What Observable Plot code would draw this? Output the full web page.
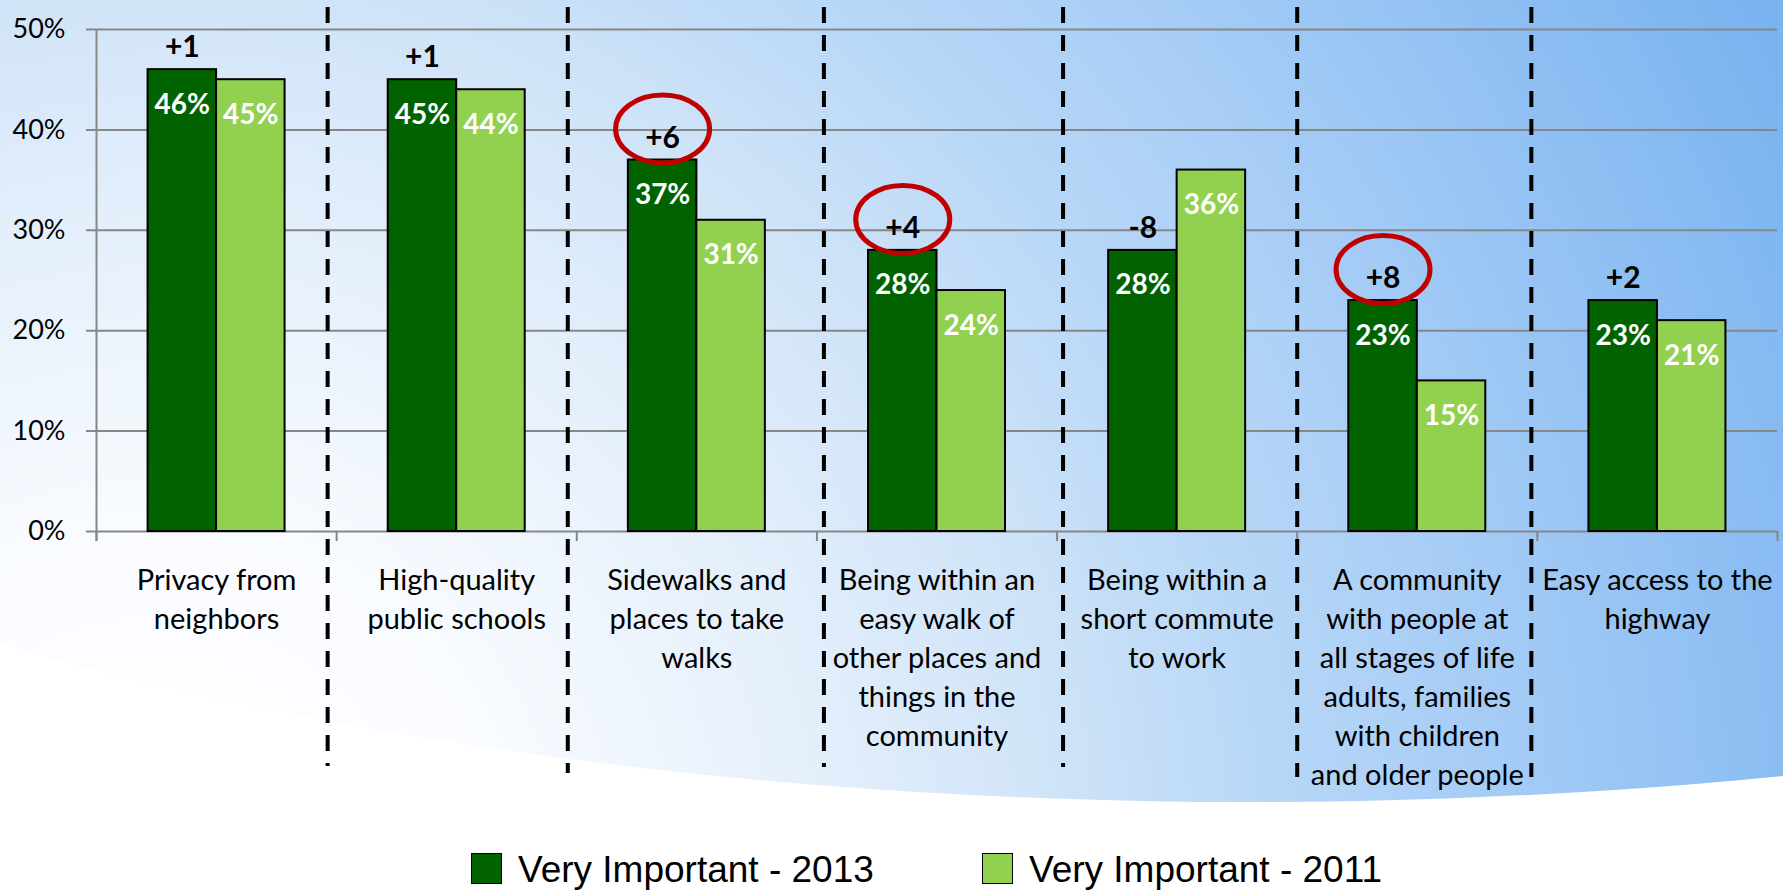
<!DOCTYPE html>
<html>
<head>
<meta charset="utf-8">
<script src="https://cdn.jsdelivr.net/npm/d3@7"></script>
<script src="https://cdn.jsdelivr.net/npm/@observablehq/plot@0.6"></script>
<style>
  html, body { margin: 0; padding: 0; }
  body { width: 1783px; height: 890px; overflow: hidden; position: relative; background: #ffffff; font-family: Lato, sans-serif; }
  #bg { position: absolute; left: 0; top: 0; width: 1783px; height: 890px;
        background: radial-gradient(circle at 160px 880px, #ffffff 0px, #fafcff 330px, #e4effb 660px, #d0e4f8 890px, #bad8f7 1090px, #a7cdf6 1320px, #79b3f0 1820px);
        clip-path: ellipse(2000px 720px at 1250px 82px); }
  #chart { position: relative; width: 1783px; height: 850px; }
  #chart svg { display: block; }
  #legend { position: relative; width: 1783px; height: 40px; font-family: "Liberation Sans", Arial, sans-serif; }
  #legend .sw { position: absolute; top: 3px; width: 31px; height: 31px; box-sizing: border-box; border: 1.5px solid #000; }
  #legend .lt { position: absolute; top: 1px; font-size: 37px; line-height: 37px; color: #000; white-space: nowrap; }
</style>
</head>
<body>
<div id="bg"></div>
<div id="chart"></div>
<div id="legend"></div>
<script>
// ---------- data ----------
const categories = [
  "Privacy from neighbors",
  "High-quality public schools",
  "Sidewalks and places to take walks",
  "Being within an easy walk of other places and things in the community",
  "Being within a short commute to work",
  "A community with people at all stages of life adults, families with children and older people",
  "Easy access to the highway"
];
const tickLabels = [
  "Privacy from\nneighbors",
  "High-quality\npublic schools",
  "Sidewalks and\nplaces to take\nwalks",
  "Being within an\neasy walk of\nother places and\nthings in the\ncommunity",
  "Being within a\nshort commute\nto work",
  "A community\nwith people at\nall stages of life\nadults, families\nwith children\nand older people",
  "Easy access to the\nhighway"
];
const seriesNames = ["Very Important - 2013", "Very Important - 2011"];
const values2013 = [46, 45, 37, 28, 28, 23, 23];
const values2011 = [45, 44, 31, 24, 36, 15, 21];
const circledCategories = [categories[2], categories[3], categories[5]];
const yTicks = [0, 10, 20, 30, 40, 50];
// dashed separators between groups (after category index), extent in % units
const separatorAfter = [0, 1, 2, 3, 4, 5];
const separatorTop = 52.2;
const separatorBottoms = [-23.4, -24.1, -23.5, -23.5, -24.5, -24.5];

// ---------- styles / layout ----------
const DARK = "#006300", LIGHT = "#92D050", GRID = "#878787", RED = "#C00000";
const W = 1783, H = 850, mL = 96, mR = 6, mT = 29, mB = 319;
const bw = (W - mL - mR) / categories.length;
const barW = 68.5;
const sepNudge = [-9, -9, 7, 6, 0, -6];

const rows = categories.map((c, i) => ({
  category: c,
  v2013: values2013[i],
  v2011: values2011[i],
  diff: values2013[i] - values2011[i],
  label: tickLabels[i]
}));
const circledRows = rows.filter(r => circledCategories.includes(r.category));

const ellipseSymbol = {
  draw(ctx) {
    const rx = 47, ry = 34, k = 0.5523;
    ctx.moveTo(rx, 0);
    ctx.bezierCurveTo(rx, ry * k, rx * k, ry, 0, ry);
    ctx.bezierCurveTo(-rx * k, ry, -rx, ry * k, -rx, 0);
    ctx.bezierCurveTo(-rx, -ry * k, -rx * k, -ry, 0, -ry);
    ctx.bezierCurveTo(rx * k, -ry, rx, -ry * k, rx, 0);
    ctx.closePath();
  }
};

const separatorMarks = separatorAfter.map((ci, i) =>
  Plot.ruleX([ci], {
    x: d => categories[d + 1],
    y1: () => separatorTop,
    y2: () => separatorBottoms[i],
    dx: -bw / 2 + sepNudge[i],
    stroke: "#000",
    strokeWidth: 4,
    strokeDasharray: "16,12"
  })
);

const chart = Plot.plot({
  width: W,
  height: H,
  marginLeft: mL,
  marginRight: mR,
  marginTop: mT,
  marginBottom: mB,
  x: { domain: categories, padding: 0, round: false, axis: null },
  y: { domain: [0, 50], axis: null },
  style: { background: "transparent", color: "#000", fontFamily: "Lato, sans-serif", fontSize: "27px", overflow: "visible" },
  marks: [
    // gridlines with left tick stubs
    Plot.ruleY(yTicks, { y: d => d, stroke: GRID, strokeWidth: 2, insetLeft: -10 }),
    // y tick labels
    Plot.text(yTicks, {
      x: () => categories[0], y: d => d, text: d => `${d}%`,
      dx: -bw / 2 - 31, textAnchor: "end", fontSize: 27, fill: "#000"
    }),
    // y axis line
    Plot.ruleX([categories[0]], { x: d => d, y1: () => 50, y2: () => -1, dx: -bw / 2, stroke: GRID, strokeWidth: 2 }),
    // category boundary ticks
    Plot.ruleX(categories, { x: d => d, y1: () => 0, y2: () => -1, dx: -bw / 2, stroke: GRID, strokeWidth: 2 }),
    Plot.ruleX([categories[categories.length - 1]], { x: d => d, y1: () => 0, y2: () => -1, dx: bw / 2, stroke: GRID, strokeWidth: 2 }),
    // bars
    Plot.barY(rows, {
      x: "category", y: "v2013", fill: DARK, stroke: "#000", strokeWidth: 2,
      insetLeft: bw / 2 - barW, insetRight: bw / 2
    }),
    Plot.barY(rows, {
      x: "category", y: "v2011", fill: LIGHT, stroke: "#000", strokeWidth: 2,
      insetLeft: bw / 2, insetRight: bw / 2 - barW
    }),
    // value labels inside bars
    Plot.text(rows, {
      x: "category", y: "v2013", text: d => `${d.v2013}%`,
      dx: -barW / 2, dy: 35, fill: "#fff", fontWeight: "bold", fontSize: 28
    }),
    Plot.text(rows, {
      x: "category", y: "v2011", text: d => `${d.v2011}%`,
      dx: barW / 2, dy: 35, fill: "#fff", fontWeight: "bold", fontSize: 28
    }),
    // change labels above 2013 bars
    Plot.text(rows, {
      x: "category", y: "v2013", text: d => (d.diff > 0 ? "+" : "") + d.diff,
      dx: -barW / 2, dy: -22, fill: "#000", fontWeight: "bold", fontSize: 30
    }),
    // category labels
    Plot.text(rows, {
      x: "category", y: () => 0, text: "label",
      lineAnchor: "top", dy: 31, fontSize: 29, lineHeight: 39 / 29, fill: "#000"
    }),
    // dashed separators
    ...separatorMarks,
    // red ellipses
    Plot.dot(circledRows, {
      x: "category", y: "v2013", dx: -barW / 2, dy: -31,
      symbol: ellipseSymbol, fill: "none", stroke: RED, strokeWidth: 5
    })
  ]
});
document.getElementById("chart").appendChild(chart);

// legend
const legend = document.getElementById("legend");
const legendItems = [
  { name: seriesNames[0], color: DARK, sw: 471, tx: 518 },
  { name: seriesNames[1], color: LIGHT, sw: 982, tx: 1029 }
];
for (const it of legendItems) {
  const s = document.createElement("span");
  s.className = "sw"; s.style.left = it.sw + "px"; s.style.background = it.color;
  const t = document.createElement("span");
  t.className = "lt"; t.style.left = it.tx + "px"; t.textContent = it.name;
  legend.appendChild(s); legend.appendChild(t);
}
</script>
</body>
</html>
